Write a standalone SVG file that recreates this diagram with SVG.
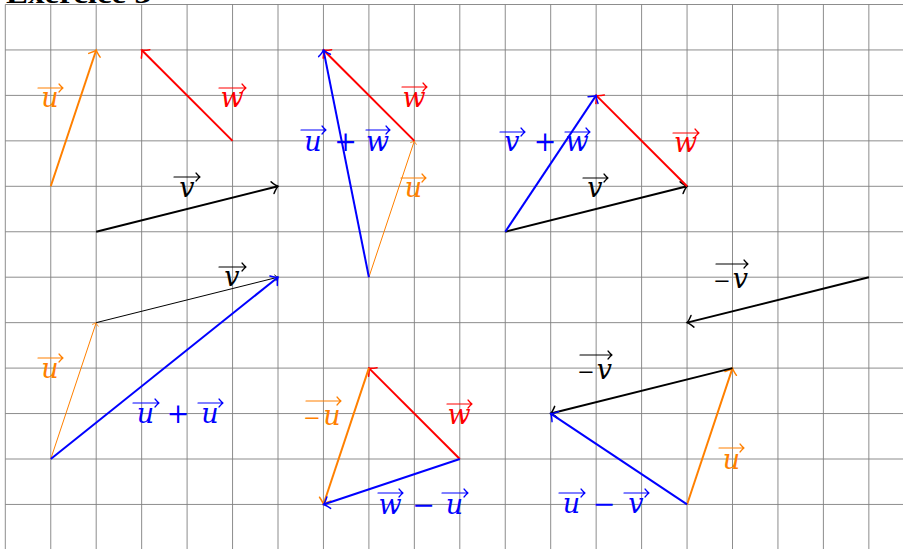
<svg xmlns="http://www.w3.org/2000/svg" width="903" height="549" viewBox="0 0 903 549">
<style>
.grid line{stroke:#808080;stroke-width:0.9}
.vec{fill:none;stroke-linecap:butt}
.thick{stroke-width:2}
.thin{stroke-width:1}
.o{stroke:#FF8000}.r{stroke:#FF0000}.b{stroke:#0000FF}.k{stroke:#000000}
.lab text{font-family:"DejaVu Serif","Liberation Serif",serif;font-size:27px}
.lab text.m{font-style:italic}
.lab text.n{font-size:21px}
.lab path{fill:none;stroke-width:1.2;stroke-linecap:round;stroke-linejoin:round}
.lo text{fill:#FF8000}.lo path{stroke:#FF8000}
.lr text{fill:#FF0000}.lr path{stroke:#FF0000}
.lb text{fill:#0000FF}.lb path{stroke:#0000FF}
.lk text{fill:#000000}.lk path{stroke:#000000}
.title{font-family:"Liberation Serif","Times New Roman",serif;font-weight:bold;font-size:28px;fill:#000}
</style>
<defs>
<marker id="ho" markerUnits="strokeWidth" markerWidth="8" markerHeight="8" refX="0" refY="0" orient="auto" overflow="visible"><path d="M -2.8 -3 Q -1 -0.6 0 0 Q -1 0.6 -2.8 3" fill="none" stroke="#FF8000" stroke-width="0.75" stroke-linecap="round"/></marker>
<marker id="hr" markerUnits="strokeWidth" markerWidth="8" markerHeight="8" refX="0" refY="0" orient="auto" overflow="visible"><path d="M -2.8 -3 Q -1 -0.6 0 0 Q -1 0.6 -2.8 3" fill="none" stroke="#FF0000" stroke-width="0.75" stroke-linecap="round"/></marker>
<marker id="hb" markerUnits="strokeWidth" markerWidth="8" markerHeight="8" refX="0" refY="0" orient="auto" overflow="visible"><path d="M -2.8 -3 Q -1 -0.6 0 0 Q -1 0.6 -2.8 3" fill="none" stroke="#0000FF" stroke-width="0.75" stroke-linecap="round"/></marker>
<marker id="hk" markerUnits="strokeWidth" markerWidth="8" markerHeight="8" refX="0" refY="0" orient="auto" overflow="visible"><path d="M -2.8 -3 Q -1 -0.6 0 0 Q -1 0.6 -2.8 3" fill="none" stroke="#000000" stroke-width="0.75" stroke-linecap="round"/></marker>
</defs>
<rect x="0" y="0" width="903" height="549" fill="#ffffff"/>
<text class="title" x="6" y="2.5" textLength="145" lengthAdjust="spacingAndGlyphs">Exercice 3</text>
<g class="grid" id="grid">
<line x1="5.3" y1="4.5" x2="903" y2="4.5"/><line x1="5.3" y1="49.95" x2="903" y2="49.95"/><line x1="5.3" y1="95.4" x2="903" y2="95.4"/><line x1="5.3" y1="140.85" x2="903" y2="140.85"/><line x1="5.3" y1="186.3" x2="903" y2="186.3"/><line x1="5.3" y1="231.75" x2="903" y2="231.75"/><line x1="5.3" y1="277.2" x2="903" y2="277.2"/><line x1="5.3" y1="322.65" x2="903" y2="322.65"/><line x1="5.3" y1="368.1" x2="903" y2="368.1"/><line x1="5.3" y1="413.55" x2="903" y2="413.55"/><line x1="5.3" y1="459" x2="903" y2="459"/><line x1="5.3" y1="504.45" x2="903" y2="504.45"/>
<line x1="5.3" y1="4.5" x2="5.3" y2="549"/><line x1="50.75" y1="4.5" x2="50.75" y2="549"/><line x1="96.2" y1="4.5" x2="96.2" y2="549"/><line x1="141.65" y1="4.5" x2="141.65" y2="549"/><line x1="187.1" y1="4.5" x2="187.1" y2="549"/><line x1="232.55" y1="4.5" x2="232.55" y2="549"/><line x1="278" y1="4.5" x2="278" y2="549"/><line x1="323.45" y1="4.5" x2="323.45" y2="549"/><line x1="368.9" y1="4.5" x2="368.9" y2="549"/><line x1="414.35" y1="4.5" x2="414.35" y2="549"/><line x1="459.8" y1="4.5" x2="459.8" y2="549"/><line x1="505.25" y1="4.5" x2="505.25" y2="549"/><line x1="550.7" y1="4.5" x2="550.7" y2="549"/><line x1="596.15" y1="4.5" x2="596.15" y2="549"/><line x1="641.6" y1="4.5" x2="641.6" y2="549"/><line x1="687.05" y1="4.5" x2="687.05" y2="549"/><line x1="732.5" y1="4.5" x2="732.5" y2="549"/><line x1="777.95" y1="4.5" x2="777.95" y2="549"/><line x1="823.4" y1="4.5" x2="823.4" y2="549"/><line x1="868.85" y1="4.5" x2="868.85" y2="549"/>
</g>
<g id="connectors">
<line class="vec thick o" x1="50.75" y1="186.3" x2="96.2" y2="49.95" marker-end="url(#ho)"/>
<line class="vec thick r" x1="232.55" y1="140.85" x2="141.65" y2="49.95" marker-end="url(#hr)"/>
<line class="vec thick k" x1="96.2" y1="231.75" x2="278" y2="186.3" marker-end="url(#hk)"/>
<line class="vec thin o" x1="368.9" y1="277.2" x2="414.35" y2="140.85" marker-end="url(#ho)"/>
<line class="vec thick r" x1="414.35" y1="140.85" x2="323.45" y2="49.95" marker-end="url(#hr)"/>
<line class="vec thick b" x1="368.9" y1="277.2" x2="323.45" y2="49.95" marker-end="url(#hb)"/>
<line class="vec thick k" x1="505.25" y1="231.75" x2="687.05" y2="186.3" marker-end="url(#hk)"/>
<line class="vec thick r" x1="687.05" y1="186.3" x2="596.15" y2="95.4" marker-end="url(#hr)"/>
<line class="vec thick b" x1="505.25" y1="231.75" x2="596.15" y2="95.4" marker-end="url(#hb)"/>
<line class="vec thick k" x1="868.85" y1="277.2" x2="687.05" y2="322.65" marker-end="url(#hk)"/>
<line class="vec thin o" x1="50.75" y1="459" x2="96.2" y2="322.65" marker-end="url(#ho)"/>
<line class="vec thin k" x1="96.2" y1="322.65" x2="278" y2="277.2" marker-end="url(#hk)"/>
<line class="vec thick b" x1="50.75" y1="459" x2="278" y2="277.2" marker-end="url(#hb)"/>
<line class="vec thick r" x1="459.8" y1="459" x2="368.9" y2="368.1" marker-end="url(#hr)"/>
<line class="vec thick o" x1="368.9" y1="368.1" x2="323.45" y2="504.45" marker-end="url(#ho)"/>
<line class="vec thick b" x1="459.8" y1="459" x2="323.45" y2="504.45" marker-end="url(#hb)"/>
<line class="vec thick o" x1="687.05" y1="504.45" x2="732.5" y2="368.1" marker-end="url(#ho)"/>
<line class="vec thick k" x1="732.5" y1="368.1" x2="550.7" y2="413.55" marker-end="url(#hk)"/>
<line class="vec thick b" x1="687.05" y1="504.45" x2="550.7" y2="413.55" marker-end="url(#hb)"/>
</g>
<g id="label-u1" class="lab lo"><path d="M38 88 H63 M59 84 Q61.5 87 63 88 Q61.5 89 59 92"/><text class="m" x="50" y="107" text-anchor="middle">u</text></g>
<g id="label-w1" class="lab lr"><path d="M219 88 H246 M242 84 Q244.5 87 246 88 Q244.5 89 242 92"/><text class="m" x="232" y="107" text-anchor="middle">w</text></g>
<g id="label-v1" class="lab lk"><path d="M174 177 H200 M196 173 Q198.5 176 200 177 Q198.5 178 196 181"/><text class="m" x="187" y="197" text-anchor="middle">v</text></g>
<g id="label-uw" class="lab lb"><path d="M301 130 H326 M322 126 Q324.5 129 326 130 Q324.5 131 322 134 M366 130 H390 M386 126 Q388.5 129 390 130 Q388.5 131 386 134"/><text class="m" x="313" y="151" text-anchor="middle">u</text><text x="345.5" y="151" text-anchor="middle">+</text><text class="m" x="377.5" y="151" text-anchor="middle">w</text></g>
<g id="label-w2" class="lab lr"><path d="M402 87 H427 M423 83 Q425.5 86 427 87 Q425.5 88 423 91"/><text class="m" x="414" y="107" text-anchor="middle">w</text></g>
<g id="label-u2" class="lab lo"><path d="M401 178 H426 M422 174 Q424.5 177 426 178 Q424.5 179 422 182"/><text class="m" x="413.5" y="197" text-anchor="middle">u</text></g>
<g id="label-vw" class="lab lb"><path d="M500 132 H525 M521 128 Q523.5 131 525 132 Q523.5 133 521 136 M565 132 H590 M586 128 Q588.5 131 590 132 Q588.5 133 586 136"/><text class="m" x="512" y="151" text-anchor="middle">v</text><text x="545" y="151" text-anchor="middle">+</text><text class="m" x="577" y="151" text-anchor="middle">w</text></g>
<g id="label-w3" class="lab lr"><path d="M673 133 H699 M695 129 Q697.5 132 699 133 Q697.5 134 695 137"/><text class="m" x="685.5" y="152" text-anchor="middle">w</text></g>
<g id="label-v3" class="lab lk"><path d="M583 178 H608 M604 174 Q606.5 177 608 178 Q606.5 179 604 182"/><text class="m" x="595" y="197" text-anchor="middle">v</text></g>
<g id="label-mv4" class="lab lk"><path d="M716 264 H748 M744 260 Q746.5 263 748 264 Q746.5 265 744 268"/><text class="n" x="722" y="288" text-anchor="middle">−</text><text class="m" x="740.5" y="288" text-anchor="middle">v</text></g>
<g id="label-v5" class="lab lk"><path d="M219 267 H246 M242 263 Q244.5 266 246 267 Q244.5 268 242 271"/><text class="m" x="232" y="286" text-anchor="middle">v</text></g>
<g id="label-u5" class="lab lo"><path d="M38 358 H63 M59 354 Q61.5 357 63 358 Q61.5 359 59 362"/><text class="m" x="50" y="378" text-anchor="middle">u</text></g>
<g id="label-uu" class="lab lb"><path d="M133 403 H159 M155 399 Q157.5 402 159 403 Q157.5 404 155 407 M198 403 H223 M219 399 Q221.5 402 223 403 Q221.5 404 219 407"/><text class="m" x="145.5" y="423" text-anchor="middle">u</text><text x="178" y="423" text-anchor="middle">+</text><text class="m" x="210" y="423" text-anchor="middle">u</text></g>
<g id="label-mu6" class="lab lo"><path d="M306 401 H341 M337 397 Q339.5 400 341 401 Q339.5 402 337 405"/><text class="n" x="312" y="425" text-anchor="middle">−</text><text class="m" x="332" y="425" text-anchor="middle">u</text></g>
<g id="label-w6" class="lab lr"><path d="M447 404 H472 M468 400 Q470.5 403 472 404 Q470.5 405 468 408"/><text class="m" x="459" y="424" text-anchor="middle">w</text></g>
<g id="label-wu" class="lab lb"><path d="M378 493 H403 M399 489 Q401.5 492 403 493 Q401.5 494 399 497 M442 493 H468 M464 489 Q466.5 492 468 493 Q466.5 494 464 497"/><text class="m" x="390" y="514" text-anchor="middle">w</text><text x="423.5" y="514" text-anchor="middle">−</text><text class="m" x="454.5" y="514" text-anchor="middle">u</text></g>
<g id="label-mv7" class="lab lk"><path d="M580 355 H612 M608 351 Q610.5 354 612 355 Q610.5 356 608 359"/><text class="n" x="586" y="379" text-anchor="middle">−</text><text class="m" x="604.5" y="379" text-anchor="middle">v</text></g>
<g id="label-u7" class="lab lo"><path d="M719 448 H744 M740 444 Q742.5 447 744 448 Q742.5 449 740 452"/><text class="m" x="731.5" y="469" text-anchor="middle">u</text></g>
<g id="label-uv" class="lab lb"><path d="M559 493 H585 M581 489 Q583.5 492 585 493 Q583.5 494 581 497 M624 493 H649 M645 489 Q647.5 492 649 493 Q647.5 494 645 497"/><text class="m" x="571.5" y="513" text-anchor="middle">u</text><text x="604" y="513" text-anchor="middle">−</text><text class="m" x="636" y="513" text-anchor="middle">v</text></g>
</svg>
